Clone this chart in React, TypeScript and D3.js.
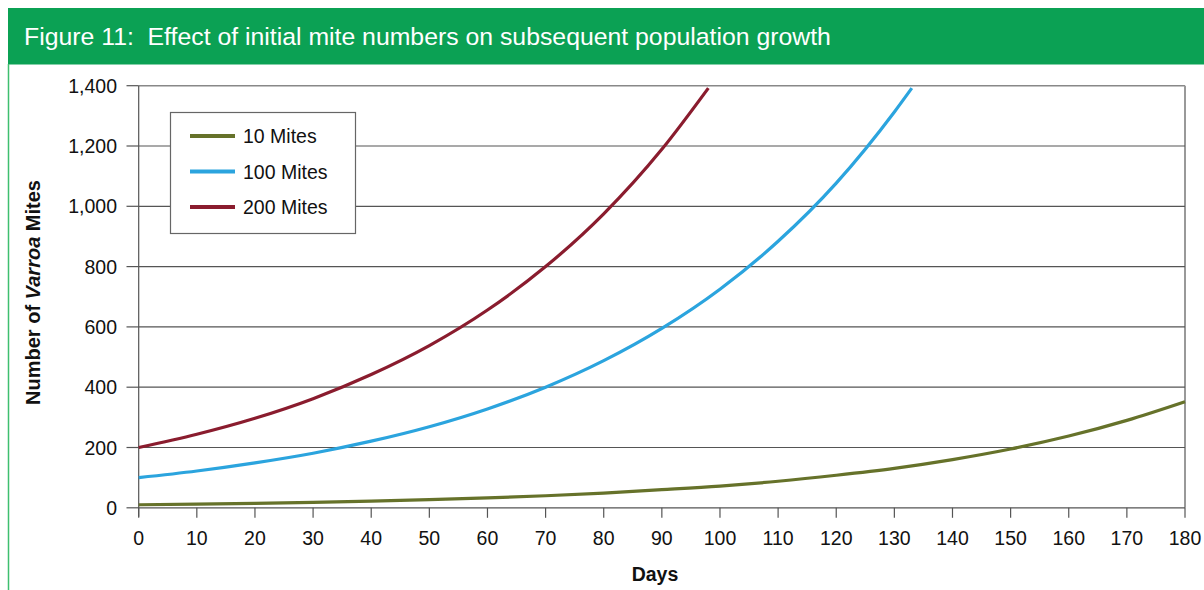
import * as d3 from "d3";

// values, every 10 days
const days10 = [0, 10, 20, 30, 40, 50, 60, 70, 80, 90, 100, 110, 120, 130, 140, 150, 160, 170, 180];
const mites10 = [10, 12, 15, 18, 22, 27, 33, 40, 49, 60, 72, 88, 108, 131, 160, 195, 238, 290, 352];

const days100 = [0, 10, 20, 30, 40, 50, 60, 70, 80, 90, 100, 110, 120, 130, 133];
const mites100 = [100, 122, 149, 181, 221, 269, 328, 400, 488, 595, 725, 884, 1077, 1313, 1392];

const days200 = [0, 10, 20, 30, 40, 50, 60, 70, 80, 90, 98];
const mites200 = [200, 244, 297, 362, 442, 538, 656, 800, 975, 1189, 1392];

const seriesNames = ["10 Mites", "100 Mites", "200 Mites"];
const seriesColors = ["#66722a", "#2ba4de", "#8a1c2e"];

const xTicks = d3.range(0, 181, 10);
const yTicks = d3.range(0, 1401, 200);

const FONT = "'Liberation Sans', Arial, sans-serif";

export default function App() {
  const x = d3.scaleLinear().domain([0, 180]).range([138.7, 1185]);
  const y = d3.scaleLinear().domain([0, 1400]).range([507.8, 85.7]);

  const series = [
    days10.map((d, i) => [d, mites10[i]] as [number, number]),
    days100.map((d, i) => [d, mites100[i]] as [number, number]),
    days200.map((d, i) => [d, mites200[i]] as [number, number]),
  ];

  const line = d3
    .line<[number, number]>()
    .x((d) => x(d[0]))
    .y((d) => y(d[1]))
    .curve(d3.curveMonotoneX);

  const [x0, x1] = x.range();
  const [yBottom, yTop] = y.range();

  return (
    <svg
      width={1204}
      height={590}
      style={{ position: "absolute", left: 0, top: 0, display: "block", background: "#fff" }}
      fontFamily={FONT}
    >
      {/* title bar */}
      <rect x={8} y={8} width={1196} height={56.5} fill="#0ba154" />
      <line x1={8.5} x2={8.5} y1={64} y2={590} stroke="#3fbf6f" strokeWidth={1.5} />
      <text x={24} y={45} fill="#fff" fontSize={24.8}>
        {"Figure 11:\u00a0\u00a0Effect of initial mite numbers on subsequent population growth"}
      </text>

      {/* frame */}
      <line x1={x0} x2={x1} y1={yTop} y2={yTop} stroke="#888" strokeWidth={1.5} />
      <line x1={x1} x2={x1} y1={yTop} y2={yBottom} stroke="#999" strokeWidth={2} />

      {/* gridlines + y ticks */}
      {yTicks.map((t) => (
        <g key={t}>
          {t > 0 && t < 1400 && (
            <line x1={x0} x2={x1} y1={y(t)} y2={y(t)} stroke="#555" strokeWidth={1.2} />
          )}
          <line x1={126.5} x2={x0} y1={y(t)} y2={y(t)} stroke="#555" strokeWidth={1.2} />
          <text x={117} y={y(t)} dy="0.36em" textAnchor="end" fontSize={19.5} fill="#111">
            {d3.format(",")(t)}
          </text>
        </g>
      ))}

      {/* axes */}
      <line x1={x0} x2={x0} y1={yTop} y2={yBottom + 9} stroke="#555" strokeWidth={1.2} />
      <line x1={x0} x2={x1} y1={yBottom} y2={yBottom} stroke="#555" strokeWidth={1.2} />
      {xTicks.map((t) => (
        <g key={t}>
          <line x1={x(t)} x2={x(t)} y1={yBottom} y2={yBottom + 10} stroke="#555" strokeWidth={1.2} />
          <text x={x(t)} y={545} textAnchor="middle" fontSize={19.5} fill="#111">
            {t}
          </text>
        </g>
      ))}

      {/* axis titles */}
      <text x={655} y={581} textAnchor="middle" fontSize={19.5} fontWeight="bold" fill="#111">
        Days
      </text>
      <text
        transform={`translate(40,292.5) rotate(-90)`}
        textAnchor="middle"
        fontSize={20}
        fontWeight="bold"
        fill="#111"
      >
        Number of <tspan fontStyle="italic">Varroa</tspan> Mites
      </text>

      {/* curves */}
      {series.map((s, i) => (
        <path key={i} d={line(s) ?? ""} fill="none" stroke={seriesColors[i]} strokeWidth={3.2} />
      ))}

      {/* legend */}
      <rect x={170.5} y={112.5} width={185} height={121} fill="#fff" stroke="#666" strokeWidth={1.2} />
      {seriesNames.map((name, i) => (
        <g key={name}>
          <line
            x1={190}
            x2={235}
            y1={136 + i * 35.5}
            y2={136 + i * 35.5}
            stroke={seriesColors[i]}
            strokeWidth={4}
          />
          <text x={243} y={136 + i * 35.5} dy="0.36em" fontSize={19.5} fill="#111">
            {name}
          </text>
        </g>
      ))}
    </svg>
  );
}
